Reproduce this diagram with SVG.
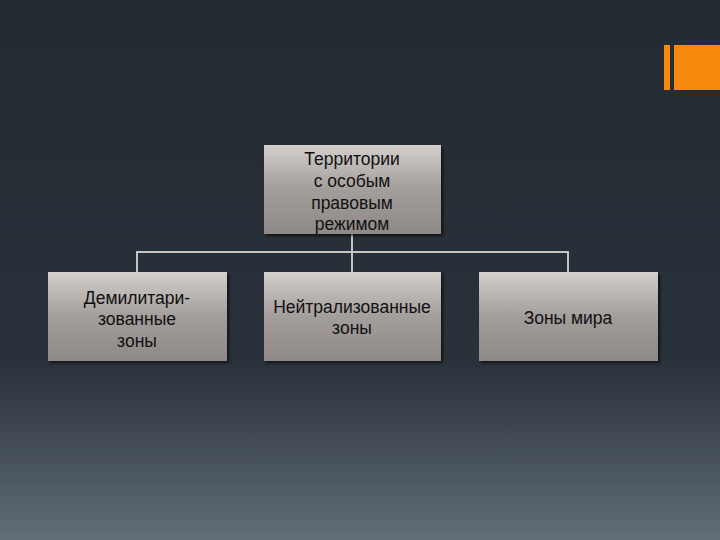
<svg xmlns="http://www.w3.org/2000/svg" width="720" height="540" viewBox="0 0 720 540">
<defs>
<linearGradient id="bg" x1="0" y1="0" x2="0" y2="1">
<stop offset="0" stop-color="#232a32"/>
<stop offset="0.67" stop-color="#29313a"/>
<stop offset="1" stop-color="#626d76"/>
</linearGradient>
<linearGradient id="box" x1="0" y1="0" x2="0" y2="1">
<stop offset="0" stop-color="#d3cfcb"/>
<stop offset="0.5" stop-color="#a39d9b"/>
<stop offset="1" stop-color="#8e8886"/>
</linearGradient>
<filter id="sh" x="-10%" y="-10%" width="130%" height="130%">
<feGaussianBlur in="SourceAlpha" stdDeviation="1.5"/>
<feOffset dx="2" dy="2"/>
<feComponentTransfer><feFuncA type="linear" slope="0.6"/></feComponentTransfer>
<feMerge><feMergeNode/><feMergeNode in="SourceGraphic"/></feMerge>
</filter>
</defs>
<style>
.b{fill:url(#box);filter:url(#sh)}
.t{font-family:"Liberation Sans",Arial,sans-serif;font-size:17.5px;fill:#111;text-anchor:middle}
.c{stroke:#c4c4c4;stroke-width:2;fill:none}
</style>
<rect width="720" height="540" fill="url(#bg)"/>
<rect x="664" y="45" width="6" height="45" fill="#f7890c"/>
<rect x="674" y="45" width="46" height="45" fill="#f7890c"/>
<g id="connectors">
<path class="c" d="M352 234V252M137 272V252H568V272M352 252V272"/>
</g>
<g id="root">
<rect class="b" x="264" y="145" width="177" height="89"/>
<text class="t" x="352" y="165">Территории</text>
<text class="t" x="352" y="187">с особым</text>
<text class="t" x="352" y="209">правовым</text>
<text class="t" x="352" y="230">режимом</text>
</g>
<g id="n1">
<rect class="b" x="48" y="272" width="179" height="89"/>
<text class="t" x="137" y="304">Демилитари-</text>
<text class="t" x="137" y="325">зованные</text>
<text class="t" x="137" y="347">зоны</text>
</g>
<g id="n2">
<rect class="b" x="264" y="272" width="177" height="89"/>
<text class="t" x="352" y="313">Нейтрализованные</text>
<text class="t" x="352" y="334">зоны</text>
</g>
<g id="n3">
<rect class="b" x="479" y="272" width="179" height="89"/>
<text class="t" x="568" y="324">Зоны мира</text>
</g>
</svg>
